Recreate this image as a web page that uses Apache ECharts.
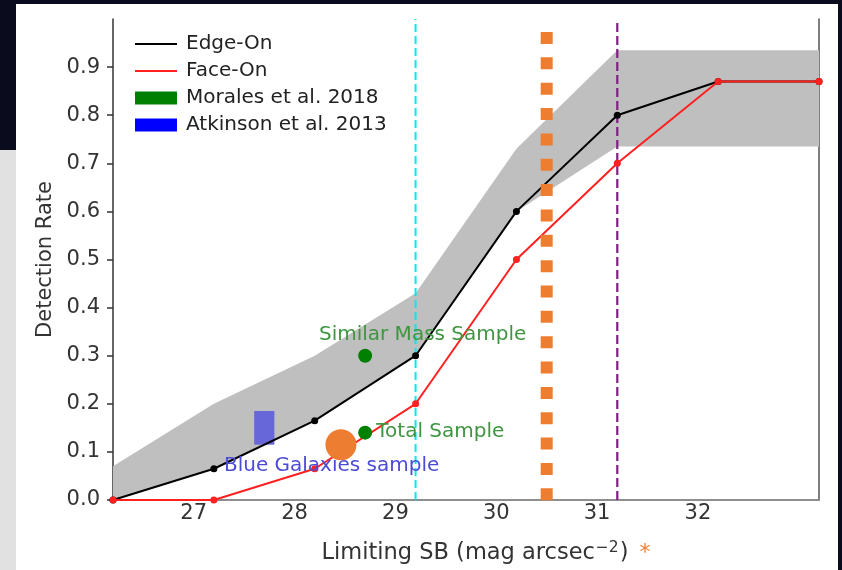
<!DOCTYPE html>
<html><head><meta charset="utf-8">
<script src="https://cdn.jsdelivr.net/npm/echarts@6/dist/echarts.min.js"></script>
<style>html,body{margin:0;padding:0;background:#0b0b1e;overflow:hidden}#c{width:842px;height:570px}</style>
</head><body><div id="c"></div>
<script>
// ---- data ----
const sbX = [26.2, 27.2, 28.2, 29.2, 30.2, 31.2, 32.2, 33.2];
const edgeOn = [0.0, 0.065, 0.165, 0.30, 0.60, 0.80, 0.87, 0.87];
const faceOn = [0.0, 0.0, 0.065, 0.20, 0.50, 0.70, 0.87, 0.87];
const bandUpper = [0.07, 0.20, 0.30, 0.43, 0.73, 0.935, 0.935, 0.935];
const bandLower = [0.0, 0.065, 0.165, 0.30, 0.60, 0.735, 0.735, 0.735];
const moralesX = [28.7, 28.7];
const moralesY = [0.30, 0.14];
const atkinsonX = [27.6, 27.8];
const atkinsonY = [0.115, 0.185];
const xTicks = [27, 28, 29, 30, 31, 32];
const yTicks = [0.0, 0.1, 0.2, 0.3, 0.4, 0.5, 0.6, 0.7, 0.8, 0.9];
const cyanLineX = 29.2;
const purpleLineX = 31.2;
const orangeLineX = 30.5;
const orangeLineY = [0.973, -0.004];
const orangeDot = [28.46, 0.115];
const annotTexts = ['Similar Mass Sample', 'Total Sample', 'Blue Galaxies sample'];
const annotX = [29.27, 28.81, 27.3];
const annotY = [0.344, 0.142, 0.071];
// ---- styles ----
const annotColors = ['#3f9540', '#3f9540', '#4b4bd6'];
const annotAlign = ['center', 'left', 'left'];
const FONT = 'DejaVu Sans';

const chart = echarts.init(document.getElementById('c'), null, {renderer: 'canvas'});
const option = {
  animation: false,
  textStyle: {fontFamily: FONT},
  graphic: [
    {type: 'rect', z: -10, shape: {x: 16, y: 4, width: 822, height: 566}, style: {fill: '#ffffff'}},
    {type: 'rect', z: -10, shape: {x: 0, y: 150, width: 16, height: 420}, style: {fill: '#e1e1e1'}}
  ],
  grid: {left: 113, top: 19, right: 23, bottom: 70},
  legend: {
    orient: 'vertical', left: 130, top: 29, itemWidth: 42, itemHeight: 13, itemGap: 7,
    selectedMode: false,
    textStyle: {fontFamily: FONT, fontSize: 20, color: '#222', lineHeight: 20, padding: [0, 0, 0, 4]},
    data: [
      {name: 'Edge-On', icon: 'path://M0 0H42V2.2H0Z', itemStyle: {color: '#000000', borderWidth: 0}},
      {name: 'Face-On', icon: 'path://M0 0H42V2.2H0Z', itemStyle: {color: '#ff2020', borderWidth: 0}},
      {name: 'Morales et al. 2018', icon: 'rect', itemStyle: {color: '#008000', borderWidth: 0, opacity: 1}},
      {name: 'Atkinson et al. 2013', icon: 'rect', itemStyle: {color: '#0000ff', borderWidth: 0, opacity: 1}}
    ]
  },
  xAxis: [
    {
      type: 'value', min: sbX[0], max: sbX[sbX.length - 1], position: 'bottom',
      splitLine: {show: false}, axisTick: {show: false},
      axisLine: {show: true, lineStyle: {color: '#bdbdbd', width: 1.5}},
      axisLabel: {customValues: xTicks, margin: 3, fontSize: 21, color: '#333', fontFamily: FONT},
      name: '{a|Limiting SB (mag arcsec}{sup|−2}{a|)}{b| *}',
      nameLocation: 'middle', nameGap: 40,
      nameTextStyle: {padding: [0, 0, 0, 40], rich: {
        a: {fontSize: 22.5, color: '#333', fontFamily: FONT, lineHeight: 26},
        sup: {fontSize: 15.5, color: '#333', fontFamily: FONT, verticalAlign: 'top', lineHeight: 26, padding: [0, 1, 8, 1]},
        b: {fontSize: 22, color: '#ed7d31', fontFamily: FONT, lineHeight: 26, padding: [0, 0, 0, 4]}
      }}
    },
    {
      type: 'value', min: sbX[0], max: sbX[sbX.length - 1], position: 'top',
      splitLine: {show: false}, axisTick: {show: false}, axisLabel: {show: false},
      axisLine: {show: true, lineStyle: {color: '#7a7a7a', width: 1.5}}
    }
  ],
  yAxis: [
    {
      type: 'value', min: 0, max: 1.0, interval: 0.1, position: 'left',
      splitLine: {show: false},
      axisLine: {show: true, lineStyle: {color: '#333', width: 1.5}},
      axisTick: {show: true, customValues: yTicks, length: 6, lineStyle: {color: '#333', width: 1.5}},
      axisLabel: {customValues: yTicks, margin: 13, fontSize: 21, color: '#333', fontFamily: FONT,
        formatter: v => v.toFixed(1)},
      name: 'Detection Rate', nameLocation: 'middle', nameRotate: 90, nameGap: 57,
      nameTextStyle: {fontSize: 21, color: '#333', fontFamily: FONT}
    },
    {
      type: 'value', min: 0, max: 1.0, interval: 0.1, position: 'right',
      splitLine: {show: false}, axisTick: {show: false}, axisLabel: {show: false},
      axisLine: {show: true, lineStyle: {color: '#555', width: 1.5}}
    }
  ],
  series: [
    {
      type: 'custom', name: 'band', z: 1, silent: true,
      data: [[sbX[0], bandLower[0]]],
      renderItem: function (params, api) {
        const pts = [];
        for (let i = 0; i < sbX.length; i++) pts.push(api.coord([sbX[i], bandUpper[i]]));
        for (let i = sbX.length - 1; i >= 0; i--) pts.push(api.coord([sbX[i], bandLower[i]]));
        return {type: 'polygon', shape: {points: pts}, style: {fill: '#bfbfbf'}};
      }
    },
    {
      type: 'custom', name: 'Atkinson et al. 2013', z: 2, silent: true,
      itemStyle: {color: '#0000ff'},
      data: [[atkinsonX[0], atkinsonY[0]]],
      renderItem: function (params, api) {
        const a = api.coord([atkinsonX[0], atkinsonY[1]]);
        const b = api.coord([atkinsonX[1], atkinsonY[0]]);
        return {type: 'rect', shape: {x: a[0], y: a[1], width: b[0] - a[0], height: b[1] - a[1]},
          style: {fill: '#6767d9'}};
      }
    },
    {
      type: 'line', name: 'cyan', z: 3, silent: true, symbol: 'none',
      data: [[cyanLineX, 0], [cyanLineX, 1]],
      lineStyle: {color: '#00e8f0', width: 2, type: [8, 4]}
    },
    {
      type: 'line', name: 'purple', z: 3, silent: true, symbol: 'none',
      data: [[purpleLineX, 0], [purpleLineX, 1]],
      lineStyle: {color: '#7f1f80', width: 2.2, type: [9, 4]}
    },
    {
      type: 'line', name: 'Edge-On', z: 5, symbol: 'circle', symbolSize: 7, showSymbol: true,
      data: sbX.map((x, i) => [x, edgeOn[i]]),
      lineStyle: {color: '#000', width: 2}, itemStyle: {color: '#000'}
    },
    {
      type: 'line', name: 'Face-On', z: 6, symbol: 'circle', symbolSize: 7, showSymbol: true,
      data: sbX.map((x, i) => [x, faceOn[i]]),
      lineStyle: {color: '#ff2020', width: 2}, itemStyle: {color: '#ff2020'}
    },
    {
      type: 'custom', name: 'annot', z: 7, silent: true,
      data: annotTexts.map((t, i) => [annotX[i], annotY[i]]),
      renderItem: function (params, api) {
        const i = params.dataIndex;
        const c = api.coord([annotX[i], annotY[i]]);
        return {type: 'text', x: c[0], y: c[1], style: {text: annotTexts[i], fill: annotColors[i],
          font: '20px "DejaVu Sans"', align: annotAlign[i], verticalAlign: 'middle'}};
      }
    },
    {
      type: 'scatter', name: 'Morales et al. 2018', z: 8, symbolSize: 14,
      itemStyle: {color: '#008000', opacity: 1},
      data: moralesX.map((x, i) => [x, moralesY[i]])
    },
    {
      type: 'line', name: 'orangeDots', z: 10, silent: true, symbol: 'none', clip: false,
      data: [[orangeLineX, orangeLineY[0]], [orangeLineX, orangeLineY[1]]],
      lineStyle: {color: '#ed7d31', width: 12, type: [12, 13.35], cap: 'butt'}
    },
    {
      type: 'scatter', name: 'orangeDot', z: 11, silent: true, symbolSize: 31,
      itemStyle: {color: '#ed7d31', opacity: 1},
      data: [orangeDot]
    }
  ]
};
chart.setOption(option);
</script></body></html>
